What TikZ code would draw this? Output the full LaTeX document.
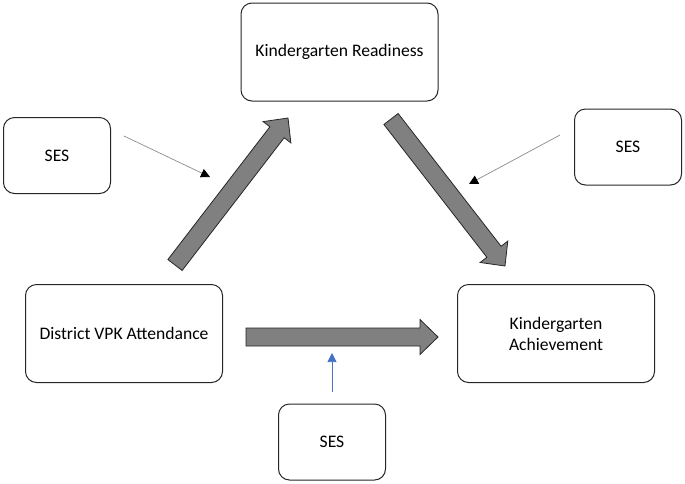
\documentclass[tikz,border=0pt]{standalone}
\usepackage{fontspec}
\setmainfont{Carlito}
\usepackage{tikz}
\usetikzlibrary{calc}
\usetikzlibrary{positioning}
\usetikzlibrary{arrows.meta}

\definecolor{sesblue}{RGB}{68,114,196}

\begin{document}
\begin{tikzpicture}[x=1pt,y=-1pt,outer sep=0pt,inner sep=2pt]

	\tikzstyle{every node}=[font=\fontsize{17.6}{21}\selectfont]

	\tikzset{box/.style={align=center,shape=rectangle,rounded corners=11pt,
		draw=black!85,line width=1pt,minimum height=98pt,minimum width=197pt}}

	\tikzset{sesbox/.style={box,minimum height=76pt,minimum width=107pt}}

	\tikzset{modarrow/.style={draw=black!45,line width=0.7pt,
		-{Triangle[length=9pt,width=9pt,color=black]}}}

	\tikzset{blockarrow/.style={draw=black!85,fill=black!50,line width=0.8pt,
		to path={
		($(\tikztostart)!9pt!90:(\tikztotarget)$)
		-- ($($(\tikztotarget)!18pt!(\tikztostart)$)!9pt!90:(\tikztotarget)$)
		-- ($($(\tikztotarget)!18pt!(\tikztostart)$)!17.5pt!90:(\tikztotarget)$)
		-- (\tikztotarget)
		-- ($($(\tikztotarget)!18pt!(\tikztostart)$)!17.5pt!-90:(\tikztotarget)$)
		-- ($($(\tikztotarget)!18pt!(\tikztostart)$)!9pt!-90:(\tikztotarget)$)
		-- ($(\tikztostart)!9pt!-90:(\tikztotarget)$) -- cycle}}}

	\useasboundingbox (0,0) rectangle (685,483);

	% The three main boxes.
	\node (readiness) at (339.5,52) [box] {Kindergarten Readiness};
	\node (vpk) at (124,333.5) [box] {District VPK Attendance};
	\node (achievement) at (556,333.5) [box] {Kindergarten\\Achievement};

	% SES boxes around them.
	\node (sesleft) at (57,155.5) [sesbox] {SES};
	\node (sesright) at (628,147) [sesbox] {SES};
	\node (sesbottom) at (332,442) [sesbox] {SES};

	% Ends of the fat arrows.
	\coordinate (vpkout) at (175,265);
	\coordinate (readyin) at (288,118);
	\coordinate (readyout) at (391,119);
	\coordinate (achin) at (505,266);
	\coordinate (vpkright) at (246,337);
	\coordinate (achleft) at (438,337);

	\draw [blockarrow] (vpkout) to (readyin);
	\draw [blockarrow] (readyout) to (achin);
	\draw [blockarrow] (vpkright) to (achleft);

	% Thin arrows from the SES boxes.
	\coordinate (sesleftout) at (124,136);
	\coordinate (modleft) at (210,177);
	\coordinate (sesrightout) at (560,135);
	\coordinate (modright) at (469,184);
	\coordinate (sesbottomout) at (332,392);
	\coordinate (modbottom) at (332,353);

	\draw [modarrow] (sesleftout) -- (modleft);
	\draw [modarrow] (sesrightout) -- (modright);
	\draw [modarrow,draw=sesblue,-{Triangle[length=9pt,width=9pt,color=sesblue]}] (sesbottomout) -- (modbottom);
\end{tikzpicture}
\end{document}
